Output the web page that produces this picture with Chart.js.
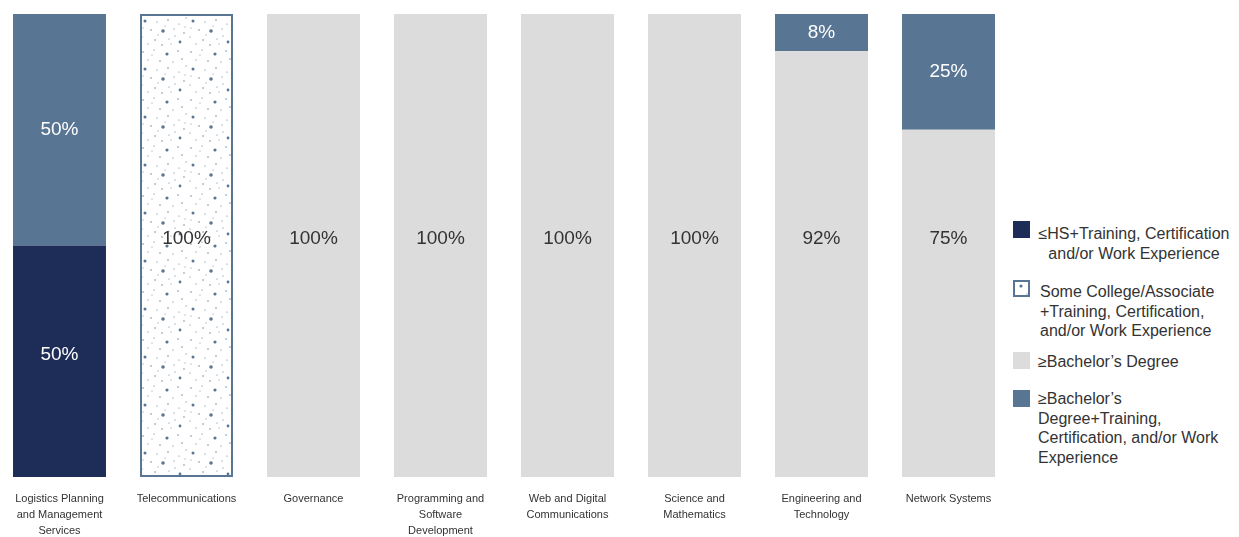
<!DOCTYPE html>
<html>
<head>
<meta charset="utf-8">
<script src="https://cdn.jsdelivr.net/npm/chart.js@4"></script>
<style>
  html, body { margin: 0; padding: 0; background: #fff; }
  body { width: 1239px; height: 537px; position: relative; overflow: hidden; font-family: "Liberation Sans", Arial, Helvetica, sans-serif; color: #333; }
  #wrap { position: absolute; left: -4px; top: 0; width: 1016px; height: 537px; }
  .lg-box { position: absolute; left: 1013px; width: 17px; height: 17px; box-sizing: border-box; }
  .lg-text { position: absolute; font-size: 16px; line-height: 19.6px; color: #333; white-space: nowrap; }
</style>
</head>
<body>
<div id="wrap"><canvas id="chart"></canvas></div>
<div id="legend"></div>
<script>
(function () {
  const categories = [
    ['Logistics Planning', 'and Management', 'Services'],
    ['Telecommunications'],
    ['Governance'],
    ['Programming and', 'Software', 'Development'],
    ['Web and Digital', 'Communications'],
    ['Science and', 'Mathematics'],
    ['Engineering and', 'Technology'],
    ['Network Systems']
  ];

  const seriesNames = [
    ['≤HS+Training, Certification', 'and/or Work Experience'],
    ['Some College/Associate', '+Training, Certification,', 'and/or Work Experience'],
    ['≥Bachelor’s Degree'],
    ['≥Bachelor’s', 'Degree+Training,', 'Certification, and/or Work', 'Experience']
  ];

  const hsTraining = [50, 0, 0, 0, 0, 0, 0, 0];
  const someCollege = [0, 100, 0, 0, 0, 0, 0, 0];
  const bachelors = [0, 0, 100, 100, 100, 100, 92, 75];
  const bachelorsTraining = [50, 0, 0, 0, 0, 0, 8, 25];

  const NAVY = '#1e2c58';
  const SLATE = '#587593';
  const GREY = '#dcdcdc';

  // dotted fill for the "Some College" series
  const dots = [
    [3, 4, 0.7], [14, 2, 0.6], [27, 6, 1.6], [38, 3, 0.7], [8, 12, 0.6],
    [20, 13, 0.7], [33, 14, 0.6], [42, 11, 0.7], [5, 21, 1.5], [17, 22, 0.6],
    [28, 20, 0.7], [39, 24, 0.6], [11, 30, 0.7], [23, 31, 1.8], [34, 29, 0.6],
    [44, 33, 0.7], [2, 37, 0.6], [15, 40, 0.7], [29, 39, 0.6], [40, 42, 1.4],
    [8, 44, 0.6], [22, 45, 0.7], [35, 36, 0.6], [46, 18, 0.6], [12, 7, 0.5],
    [31, 44, 0.5], [25, 26, 0.5], [45, 27, 0.5], [3, 28, 0.5], [18, 35, 0.5]
  ];

  function makeTile() {
    const c = document.createElement('canvas');
    c.width = 48;
    c.height = 48;
    const ctx = c.getContext('2d');
    ctx.fillStyle = '#ffffff';
    ctx.fillRect(0, 0, 48, 48);
    ctx.fillStyle = SLATE;
    dots.forEach(([x, y, r]) => {
      ctx.beginPath();
      ctx.arc(x, y, r, 0, Math.PI * 2);
      ctx.fill();
    });
    return c;
  }

  const tile = makeTile();
  const pattern = document.getElementById('chart').getContext('2d').createPattern(tile, 'repeat');

  // labels sit mid-segment, except where a dataset pins them to a value
  const barLabels = {
    id: 'barLabels',
    afterDatasetsDraw(chart) {
      const ctx = chart.ctx;
      const yScale = chart.scales.y;
      ctx.save();
      ctx.font = '19px "Liberation Sans", Arial, sans-serif';
      ctx.textAlign = 'center';
      ctx.textBaseline = 'middle';
      chart.data.datasets.forEach((ds, di) => {
        const meta = chart.getDatasetMeta(di);
        meta.data.forEach((bar, i) => {
          const v = ds.data[i];
          if (!v) return;
          const p = bar.getProps(['x', 'y', 'base'], true);
          const y = ds.labelAt != null ? yScale.getPixelForValue(ds.labelAt) : (p.y + p.base) / 2 + (ds.labelShift || 0);
          ctx.fillStyle = ds.labelColor;
          ctx.fillText(v + '%', p.x, y);
        });
      });
      ctx.restore();
    }
  };

  new Chart(document.getElementById('chart'), {
    type: 'bar',
    data: {
      labels: categories,
      datasets: [
        { label: seriesNames[0].join(' '), data: hsTraining, backgroundColor: NAVY, borderWidth: 0, labelColor: '#ffffff', labelShift: -6 },
        { label: seriesNames[1].join(' '), data: someCollege, backgroundColor: pattern, borderColor: SLATE, borderWidth: 2, borderSkipped: false, labelColor: '#333333', labelAt: 51.5 },
        { label: seriesNames[2].join(' '), data: bachelors, backgroundColor: GREY, borderWidth: 0, labelColor: '#333333', labelAt: 51.5 },
        { label: seriesNames[3].join(' '), data: bachelorsTraining, backgroundColor: SLATE, borderWidth: 0, labelColor: '#ffffff' }
      ]
    },
    options: {
      responsive: true,
      maintainAspectRatio: false,
      animation: false,
      layout: { padding: { top: 14, left: 0, right: 0, bottom: 0 } },
      datasets: { bar: { categoryPercentage: 1, barPercentage: 0.732 } },
      plugins: { legend: { display: false }, tooltip: { enabled: false } },
      scales: {
        x: {
          stacked: true,
          grid: { display: false, drawTicks: false },
          border: { display: false },
          afterFit(scale) { scale.height = 60; },
          ticks: {
            autoSkip: false,
            maxRotation: 0,
            minRotation: 0,
            padding: 14,
            color: '#333',
            font: { family: '"Liberation Sans", Arial, sans-serif', size: 11, lineHeight: 1.45 }
          }
        },
        y: { stacked: true, display: false, min: 0, max: 100 }
      }
    },
    plugins: [barLabels]
  });

  // legend
  const legend = document.getElementById('legend');
  const items = [
    { fill: NAVY, boxTop: 221, textTop: 224, textLeft: 1037, width: 194, align: 'center' },
    { fill: 'pattern', boxTop: 280, textTop: 282, textLeft: 1040, align: 'left' },
    { fill: GREY, boxTop: 352, textTop: 352, textLeft: 1038, align: 'left' },
    { fill: SLATE, boxTop: 390, textTop: 389, textLeft: 1038, align: 'left' }
  ];
  items.forEach((item, i) => {
    const box = document.createElement('div');
    box.className = 'lg-box';
    box.style.top = item.boxTop + 'px';
    if (item.fill === 'pattern') {
      box.style.border = '2px solid ' + SLATE;
      box.style.backgroundImage = 'url(' + tile.toDataURL() + ')';
      box.style.backgroundPosition = '-21px -2px';
    } else {
      box.style.background = item.fill;
    }
    legend.appendChild(box);
    const text = document.createElement('div');
    text.className = 'lg-text';
    text.style.top = item.textTop + 'px';
    text.style.left = item.textLeft + 'px';
    text.style.textAlign = item.align;
    if (item.width) text.style.width = item.width + 'px';
    text.innerHTML = seriesNames[i].join('<br>');
    legend.appendChild(text);
  });
})();
</script>
</body>
</html>
